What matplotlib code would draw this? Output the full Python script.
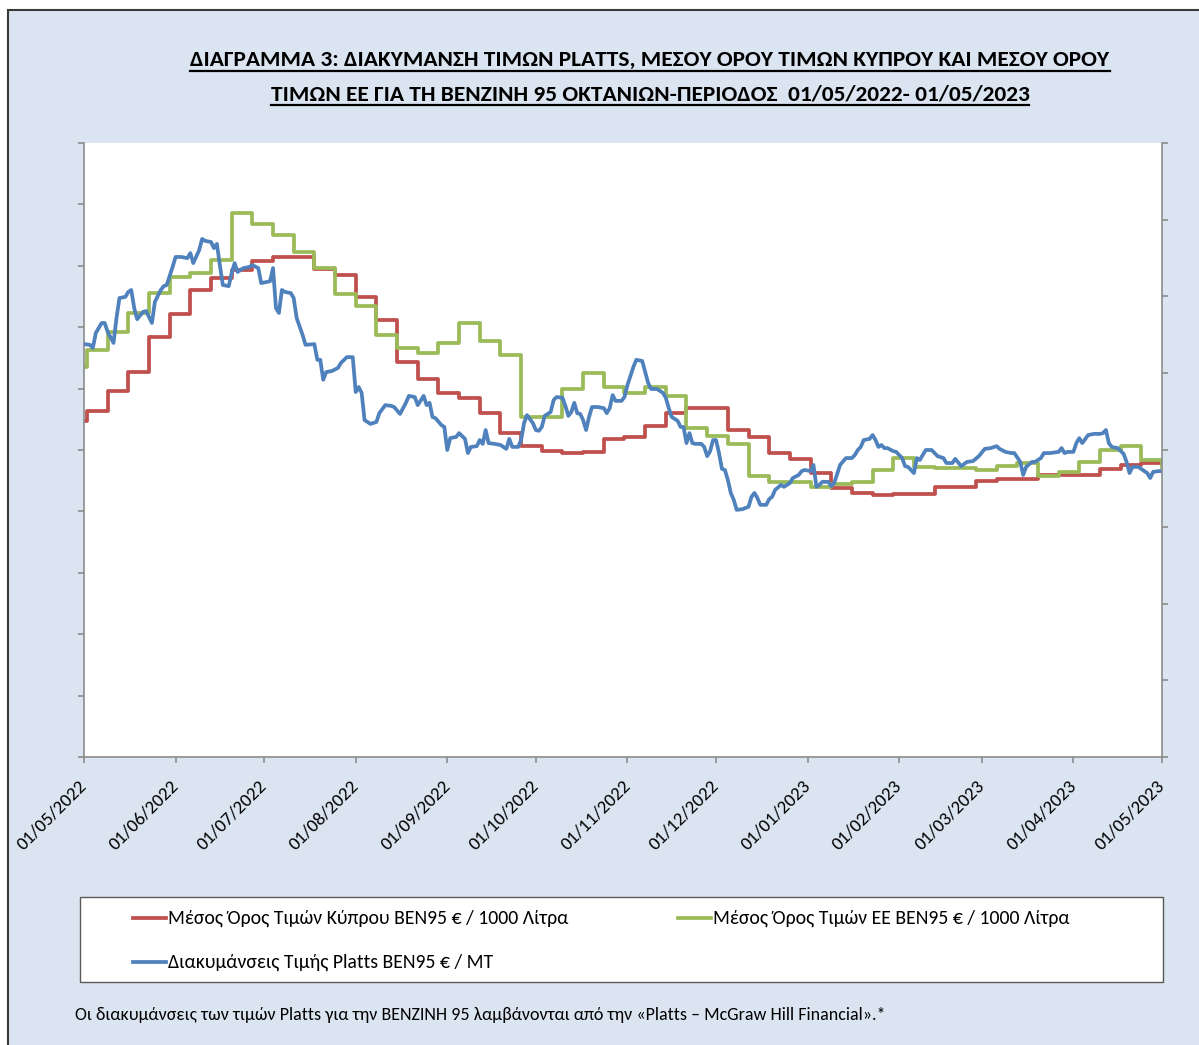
import matplotlib
matplotlib.use("Agg")
import matplotlib.pyplot as plt
import matplotlib.dates as mdates
from matplotlib.patches import Rectangle
from matplotlib.lines import Line2D
import numpy as np
import pandas as pd

# Carlito is metric-compatible with Calibri (the Excel font of the original)
plt.rcParams['font.family'] = ['Carlito', 'Liberation Sans', 'DejaVu Sans']

# ---------------- data ----------------
# weekly averages (weekly oil bulletin, Mondays), first entry = week before 01/05/2022
week_start = '2022-04-25'
cy_avg = [1368, 1409, 1490, 1568, 1710, 1804, 1902, 1950, 1983, 2020, 2036, 2036,
          1987, 1963, 1873, 1779, 1608, 1539, 1482, 1462, 1401, 1319, 1266, 1246,
          1238, 1242, 1295, 1303, 1348, 1401, 1421, 1421, 1332, 1303, 1238, 1213,
          1156, 1095, 1075, 1067, 1071, 1071, 1099, 1099, 1124, 1132, 1132, 1148,
          1148, 1148, 1173, 1189, 1197, 1197]
eu_avg = [1588, 1657, 1731, 1808, 1889, 1955, 1971, 2024, 2215, 2170, 2126, 2056,
          1991, 1885, 1836, 1718, 1665, 1645, 1686, 1767, 1694, 1637, 1384, 1384,
          1499, 1564, 1507, 1482, 1507, 1470, 1340, 1307, 1275, 1144, 1120, 1120,
          1099, 1112, 1120, 1169, 1218, 1181, 1177, 1177, 1169, 1185, 1197, 1144,
          1161, 1201, 1250, 1266, 1209, 1181]

# Platts quotes: days after 01/05/2022 and value (EUR/MT)
platts_day = [0, 2, 3, 4, 6, 7, 8, 10, 11, 12, 14, 15, 16, 17, 18, 20, 21, 22, 23, 24,
              26, 27, 28, 30, 31, 33, 35, 36, 37, 39, 40, 41, 43, 44, 45, 46, 47, 49, 50, 51,
              52, 54, 56, 57, 59, 60, 62, 63, 64, 65, 66, 67, 68, 70, 71, 72, 74, 75, 78, 79,
              80, 81, 82, 84, 86, 87, 89, 91, 92, 93, 94, 95, 97, 99, 100, 102, 104, 105, 107, 109,
              110, 112, 113, 115, 116, 117, 118, 119, 121, 122, 123, 124, 126, 127, 129, 130, 131, 133, 134, 135,
              136, 137, 139, 141, 143, 144, 145, 147, 148, 149, 150, 152, 153, 154, 155, 156, 158, 159, 160, 162,
              163, 164, 165, 166, 167, 168, 169, 170, 171, 172, 174, 176, 177, 178, 179, 180, 182, 183, 184, 186,
              187, 189, 190, 191, 192, 194, 196, 197, 198, 199, 201, 202, 203, 204, 205, 206, 207, 209, 210, 211,
              212, 213, 214, 215, 216, 217, 218, 219, 220, 221, 223, 225, 226, 227, 228, 229, 231, 232, 233, 234,
              236, 237, 239, 240, 242, 243, 244, 246, 247, 248, 249, 250, 252, 253, 254, 255, 256, 258, 260, 261,
              262, 263, 264, 266, 267, 268, 269, 270, 271, 272, 274, 275, 277, 278, 279, 281, 282, 283, 285, 286,
              287, 289, 291, 292, 294, 295, 297, 299, 301, 303, 305, 307, 309, 310, 312, 314, 315, 317, 318, 319,
              321, 322, 324, 325, 327, 330, 331, 332, 333, 335, 336, 337, 338, 340, 342, 344, 345, 346, 347, 348,
              350, 352, 353, 354, 355, 357, 359, 360, 361, 362, 364, 365]
platts_val = [1076, 1074, 1066, 1105, 1131, 1131, 1108, 1079, 1144, 1196, 1199, 1212, 1217, 1170, 1141, 1160, 1162, 1147, 1131, 1186,
              1217, 1227, 1230, 1277, 1303, 1303, 1300, 1313, 1287, 1321, 1350, 1345, 1342, 1326, 1337, 1282, 1230, 1227, 1261, 1287,
              1264, 1274, 1277, 1282, 1274, 1235, 1238, 1240, 1274, 1170, 1157, 1217, 1212, 1209, 1196, 1144, 1100, 1074, 1076, 1035,
              1035, 983, 1003, 1006, 1014, 1027, 1042, 1042, 951, 964, 949, 878, 868, 873, 896, 917, 915, 912, 894, 923,
              941, 938, 917, 941, 917, 923, 886, 883, 865, 860, 800, 831, 834, 844, 829, 792, 808, 810, 826, 816,
              852, 818, 816, 813, 803, 829, 808, 808, 826, 870, 891, 870, 852, 850, 860, 889, 899, 930, 938, 936,
              915, 889, 899, 923, 896, 894, 878, 852, 886, 912, 912, 909, 896, 909, 943, 928, 928, 938, 969, 1016,
              1035, 1032, 1003, 975, 959, 959, 949, 936, 909, 886, 876, 860, 860, 818, 844, 818, 816, 816, 808, 784,
              797, 826, 826, 792, 751, 748, 722, 688, 670, 644, 646, 652, 678, 688, 675, 657, 657, 672, 678, 696,
              709, 704, 714, 727, 735, 745, 748, 745, 761, 704, 709, 717, 717, 706, 714, 737, 761, 779, 779, 787,
              800, 808, 826, 829, 839, 826, 808, 813, 805, 805, 797, 795, 779, 758, 756, 740, 779, 774, 800, 800,
              800, 784, 779, 766, 766, 777, 758, 769, 771, 784, 803, 805, 810, 803, 795, 792, 792, 769, 735, 756,
              769, 769, 779, 792, 792, 795, 805, 792, 795, 795, 818, 831, 818, 839, 842, 842, 844, 852, 818, 808,
              805, 790, 769, 740, 756, 756, 745, 740, 727, 743, 745, 745]

labels = ['Μέσος Όρος Τιμών Κύπρου ΒΕΝ95 € / 1000 Λίτρα',
          'Μέσος Όρος Τιμών ΕΕ ΒΕΝ95 € / 1000 Λίτρα',
          'Διακυμάνσεις Τιμής Platts ΒΕΝ95 € / ΜΤ']
colors = ['#C0504D', '#9BBB59', '#4F81BD']
title1 = 'ΔΙΑΓΡΑΜΜΑ 3: ΔΙΑΚΥΜΑΝΣΗ ΤΙΜΩΝ PLATTS, ΜΕΣΟΥ ΟΡΟΥ ΤΙΜΩΝ ΚΥΠΡΟΥ ΚΑΙ ΜΕΣΟΥ ΟΡΟΥ'
title2 = 'ΤΙΜΩΝ ΕΕ ΓΙΑ ΤΗ ΒΕΝΖΙΝΗ 95 ΟΚΤΑΝΙΩΝ-ΠΕΡΙΟΔΟΣ  01/05/2022- 01/05/2023'
note = ('Οι διακυμάνσεις των τιμών Platts για την ΒΕΝΖΙΝΗ 95 λαμβάνονται από την '
        '«Platts – McGraw Hill Financial».*')

week_dates = pd.date_range(week_start, periods=len(cy_avg), freq='7D')
platts_dates = pd.Timestamp('2022-05-01') + pd.to_timedelta(platts_day, unit='D')
month_ticks = pd.date_range('2022-05-01', '2023-05-01', freq='MS')

# ---------------- figure ----------------
W, H = 1199, 1045
fig = plt.figure(figsize=(W / 100, H / 100), dpi=100)
fig.patch.set_facecolor('white')

def fx(px):
    return px / W

def fy(py):
    return 1 - py / H

# light blue chart frame (behind everything)
fig.patches.append(Rectangle((fx(8), -0.01), 1.0, fy(10) + 0.01, transform=fig.transFigure,
                             facecolor='#DBE5F1', edgecolor='#3A3A3A', linewidth=1.5, zorder=-10))

ax = fig.add_axes([fx(84), fy(757), fx(1162) - fx(84), fy(143) - fy(757)])
ax.set_facecolor('white')
ax.step(week_dates, cy_avg, where='post', color=colors[0], lw=2.7, solid_joinstyle='round')
ax.step(week_dates, eu_avg, where='post', color=colors[1], lw=2.7, solid_joinstyle='round')
ax.set_ylim(0, 2500)
ax.set_yticks(np.arange(0, 2501, 250))
ax.set_xlim(pd.Timestamp('2022-05-01'), pd.Timestamp('2023-05-01'))

ax2 = ax.twinx()
ax2.plot(platts_dates, platts_val, color=colors[2], lw=2.7, solid_joinstyle='round')
ax2.set_ylim(0, 1600)
ax2.set_yticks(np.arange(0, 1601, 200))
ax2.set_xlim(pd.Timestamp('2022-05-01'), pd.Timestamp('2023-05-01'))

spine_c = '#8C8C8C'
for a in (ax, ax2):
    a.spines['top'].set_visible(False)
    for s in ('left', 'right', 'bottom'):
        a.spines[s].set_color(spine_c)
        a.spines[s].set_linewidth(1.2)
ax.spines['right'].set_visible(False)
ax2.spines['left'].set_visible(False)
ax2.spines['bottom'].set_visible(False)
ax.tick_params(axis='y', direction='out', length=4.5, width=1.2, color=spine_c, labelleft=False)
ax2.tick_params(axis='y', direction='out', length=4.5, width=1.2, color=spine_c, labelright=False)

ax.set_xticks(month_ticks)
ax.xaxis.set_major_formatter(mdates.DateFormatter('%d/%m/%Y'))
ax.tick_params(axis='x', direction='out', length=4.5, width=1.2, color=spine_c, pad=14,
               labelsize=13.5)
for lab in ax.get_xticklabels():
    lab.set_rotation(45)
    lab.set_ha('right')
    lab.set_va('center')
    lab.set_rotation_mode('anchor')

# title with underline
t1 = fig.text(fx(650), fy(66), title1, ha='center', va='baseline', fontsize=16.8, fontweight='bold')
t2 = fig.text(fx(650), fy(100), title2, ha='center', va='baseline', fontsize=16.8, fontweight='bold')
fig.canvas.draw()
r = fig.canvas.get_renderer()
for t, ul in ((t1, 71), (t2, 105)):
    bb = t.get_window_extent(r)
    fig.lines.append(Line2D([bb.x0 / W, bb.x1 / W], [fy(ul), fy(ul)], transform=fig.transFigure,
                            color='black', lw=1.6))

# legend box
fig.patches.append(Rectangle((fx(80), fy(982)), fx(1163) - fx(80), fy(897) - fy(982),
                             transform=fig.transFigure, facecolor='white', edgecolor='#595959',
                             linewidth=1.0, zorder=1))
leg_pos = [(133, 918), (678, 918), (133, 962)]
for (lx, ly), c, lab in zip(leg_pos, colors, labels):
    fig.lines.append(Line2D([fx(lx), fx(lx + 33)], [fy(ly), fy(ly)], transform=fig.transFigure,
                            color=c, lw=2.7, zorder=2))
    fig.text(fx(lx + 35), fy(ly), lab, ha='left', va='center', fontsize=14.2, zorder=3)

fig.text(fx(75), fy(1015), note, ha='left', va='center', fontsize=13)

fig.savefig('out.png', dpi=100, facecolor='white')
